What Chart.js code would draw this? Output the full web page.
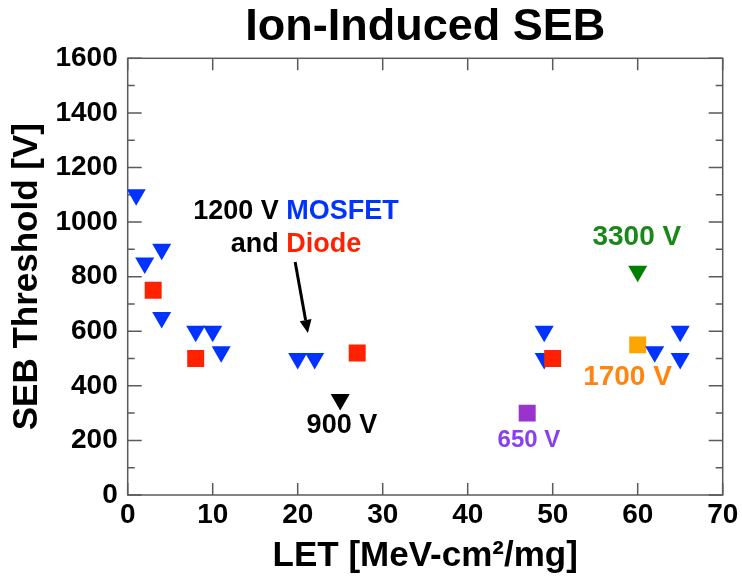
<!DOCTYPE html>
<html><head><meta charset="utf-8">
<script src="https://cdn.jsdelivr.net/npm/chart.js@4/dist/chart.umd.min.js"></script>
<style>html,body{margin:0;padding:0;background:#fff;}#wrap{width:742px;height:580px;}</style>
</head><body><div id="wrap"><canvas id="c" width="742" height="580"></canvas></div>
<script>
// ---- data ----
const xTickValues = [0,10,20,30,40,50,60,70];
const yTickValues = [0,200,400,600,800,1000,1200,1400,1600];
const mosfetLET = [1,2,4,4,8,10,11,20,22,49,49,62,65,65];
const mosfetV   = [1100,850,900,650,600,600,525,500,500,600,500,525,600,500];
const diodeLET  = [3,8,27,50];
const diodeV    = [750,500,520,500];
const v900LET = [25],  v900V = [350];
const v650LET = [47],  v650V = [300];
const v1700LET = [60], v1700V = [550];
const v3300LET = [60], v3300V = [820];
const titleText = 'Ion-Induced SEB';
const xTitle = 'LET [MeV-cm\u00B2/mg]';
const yTitle = 'SEB Threshold [V]';
// annotation labels
const annLabels = [
  {x:19.8, y:1040, size:27, parts:[['1200 V ','#000000'],['MOSFET','#0033ff']]},
  {x:19.8, y:916,  size:27, parts:[['and ','#000000'],['Diode','#ff2200']]},
  {x:25.2, y:253,  size:27, parts:[['900 V','#000000']]},
  {x:47.2, y:201,  size:24, parts:[['650 V','#8a3ff0']]},
  {x:58.8, y:432,  size:28, parts:[['1700 V','#ff8410']]},
  {x:59.9, y:945,  size:28, parts:[['3300 V','#1a871a']]}
];
const arrowFrom = [19.7, 854], arrowTo = [21.2, 594];

const FONT = '"Liberation Sans", Arial, Helvetica, sans-serif';
const BLUE = '#0033ff', RED = '#ff2200';

function pts(xs, ys){ return xs.map((x,i)=>({x:x, y:ys[i]})); }

const framePlugin = {
  id:'frame',
  beforeDatasetsDraw(chart){
    const {ctx, chartArea:a, scales:{x, y}} = chart;
    ctx.save();
    ctx.strokeStyle = '#5a5a5a';
    ctx.lineWidth = 1.5;
    ctx.strokeRect(a.left, a.top, a.right-a.left, a.bottom-a.top);
    ctx.beginPath();
    x.ticks.forEach(t=>{
      const px = x.getPixelForValue(t.value);
      ctx.moveTo(px, a.bottom); ctx.lineTo(px, a.bottom-12);
      ctx.moveTo(px, a.top); ctx.lineTo(px, a.top+12);
    });
    const yt = y.ticks.map(t=>t.value);
    yt.forEach((v,i)=>{
      const py = y.getPixelForValue(v);
      ctx.moveTo(a.left, py); ctx.lineTo(a.left+14, py);
      ctx.moveTo(a.right, py); ctx.lineTo(a.right-14, py);
      if (i < yt.length-1){
        const pm = y.getPixelForValue((v+yt[i+1])/2);
        ctx.moveTo(a.left, pm); ctx.lineTo(a.left+7, pm);
        ctx.moveTo(a.right, pm); ctx.lineTo(a.right-7, pm);
      }
    });
    ctx.stroke();
    ctx.restore();
  },
  afterDatasetsDraw(chart){
    const {ctx, scales:{x, y}} = chart;
    ctx.save();
    ctx.textBaseline = 'middle';
    annLabels.forEach(l=>{
      ctx.font = 'bold ' + l.size + 'px ' + FONT;
      const total = l.parts.reduce((s,p)=>s+ctx.measureText(p[0]).width,0);
      let px = x.getPixelForValue(l.x) - total/2;
      const py = y.getPixelForValue(l.y);
      ctx.textAlign = 'left';
      l.parts.forEach(p=>{
        ctx.fillStyle = p[1];
        ctx.fillText(p[0], px, py);
        px += ctx.measureText(p[0]).width;
      });
    });
    // arrow
    const x0 = x.getPixelForValue(arrowFrom[0]), y0 = y.getPixelForValue(arrowFrom[1]);
    const x1 = x.getPixelForValue(arrowTo[0]), y1 = y.getPixelForValue(arrowTo[1]);
    const ang = Math.atan2(y1-y0, x1-x0);
    const hl = 13, hw = 6;
    const bx = x1 - hl*Math.cos(ang), by = y1 - hl*Math.sin(ang);
    ctx.strokeStyle = '#000'; ctx.fillStyle = '#000'; ctx.lineWidth = 3;
    ctx.beginPath(); ctx.moveTo(x0,y0); ctx.lineTo(bx,by); ctx.stroke();
    ctx.beginPath();
    ctx.moveTo(x1,y1);
    ctx.lineTo(bx + hw*Math.sin(ang), by - hw*Math.cos(ang));
    ctx.lineTo(bx - hw*Math.sin(ang), by + hw*Math.cos(ang));
    ctx.closePath(); ctx.fill();
    ctx.restore();
  }
};

function ds(label, data, color, style, r){
  return {label, data, backgroundColor: color, borderColor: color, borderWidth: 0,
    pointStyle: style, pointRadius: r, pointHoverRadius: r,
    pointRotation: style === 'triangle' ? 180 : 0, showLine:false};
}

new Chart(document.getElementById('c'), {
  type:'scatter',
  data:{ datasets:[
    ds('1200 V Diode', pts(diodeLET, diodeV), RED, 'rect', 12),
    ds('1200 V MOSFET', pts(mosfetLET, mosfetV), BLUE, 'triangle', 11),
    ds('1700 V', pts(v1700LET, v1700V), '#ffa500', 'rect', 12),
    ds('650 V', pts(v650LET, v650V), '#9933cc', 'rect', 12),
    ds('3300 V', pts(v3300LET, v3300V), '#008000', 'triangle', 11),
    ds('900 V', pts(v900LET, v900V), '#000000', 'triangle', 11)
  ]},
  options:{
    responsive:false, animation:false, events:[],
    layout:{padding:{left:0, right:19.3, top:0, bottom:0}},
    plugins:{
      legend:{display:false}, tooltip:{enabled:false},
      title:{display:true, text:titleText, color:'#000', fullSize:false,
        font:{family:FONT, size:45, weight:'bold', lineHeight:1.2},
        padding:{top:1, bottom:3.3}}
    },
    scales:{
      x:{type:'linear', min:0, max:70,
        afterBuildTicks(s){ s.ticks = xTickValues.map(v=>({value:v})); },
        afterFit(s){ s.height = 85; },
        grid:{display:false, drawTicks:false}, border:{display:false},
        ticks:{autoSkip:false, maxRotation:0, padding:3, color:'#000',
          callback:v=>String(v),
          font:{family:FONT, size:28, weight:'bold'}},
        title:{display:true, text:xTitle, color:'#000', padding:{top:0,bottom:3},
          font:{family:FONT, size:35, weight:'bold'}}
      },
      y:{type:'linear', min:0, max:1600,
        afterBuildTicks(s){ s.ticks = yTickValues.map(v=>({value:v})); },
        afterFit(s){ s.width = 127.7; },
        grid:{display:false, drawTicks:false}, border:{display:false},
        ticks:{autoSkip:false, padding:10, color:'#000',
          callback:v=>String(v),
          font:{family:FONT, size:28, weight:'bold'}},
        title:{display:true, text:yTitle, color:'#000', padding:{top:6,bottom:0},
          font:{family:FONT, size:35, weight:'bold'}}
      }
    }
  },
  plugins:[framePlugin]
});
</script></body></html>
